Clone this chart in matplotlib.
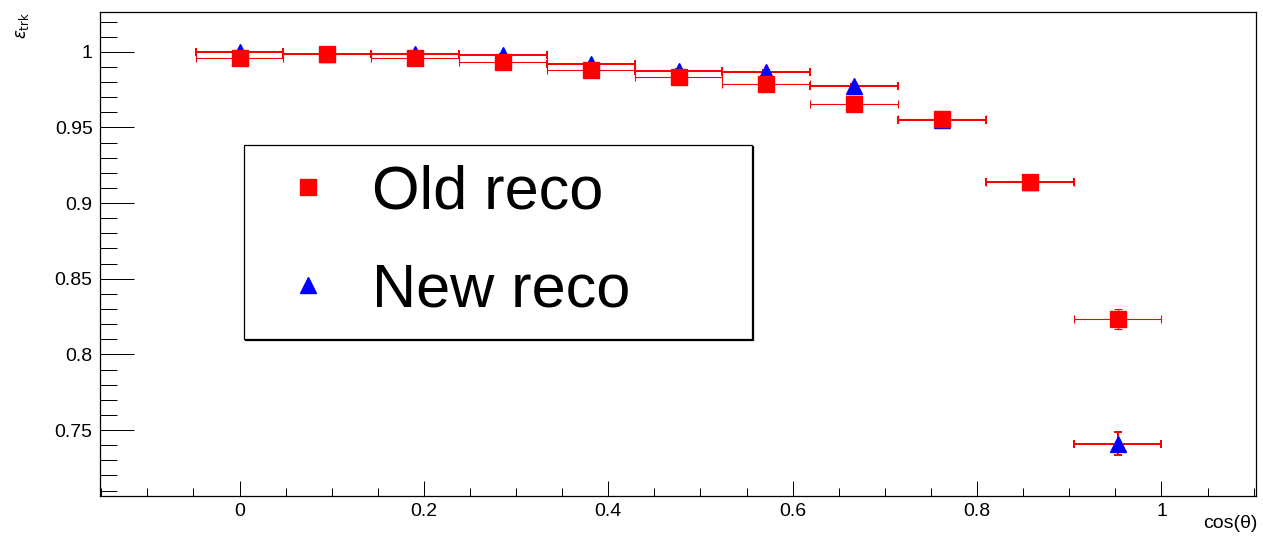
import matplotlib
matplotlib.use('Agg')
import matplotlib.pyplot as plt
from matplotlib.lines import Line2D
from matplotlib.ticker import MultipleLocator, FuncFormatter

# ---- data ----
cos_theta = [0.0, 0.0952, 0.1905, 0.2857, 0.3810, 0.4762, 0.5714, 0.6667, 0.7619, 0.8571, 0.9524]
bin_half_width = [0.0476] * 11
old_eff = [0.9962, 0.9984, 0.9957, 0.9935, 0.9880, 0.9833, 0.9787, 0.9657, 0.9553, 0.9141, 0.8232]
old_err = [0.0008, 0.0008, 0.0009, 0.0010, 0.0012, 0.0014, 0.0016, 0.0020, 0.0025, 0.0035, 0.0066]
new_eff = [1.0000, 0.9988, 0.9983, 0.9979, 0.9917, 0.9873, 0.9868, 0.9772, 0.9550, 0.9138, 0.7410]
new_err = [0.0006, 0.0007, 0.0007, 0.0008, 0.0010, 0.0012, 0.0014, 0.0018, 0.0025, 0.0035, 0.0077]
series_labels = ['Old reco', 'New reco']
y_ticks = [0.75, 0.8, 0.85, 0.9, 0.95, 1.0]
x_ticks = [0.0, 0.2, 0.4, 0.6, 0.8, 1.0]

plt.rcParams['font.family'] = ['Liberation Sans', 'DejaVu Sans']
plt.rcParams['mathtext.fontset'] = 'dejavusans'

fig = plt.figure(figsize=(12.63, 5.39), dpi=100)
ax = fig.add_axes([0.0789, 0.0798, 0.9154, 0.8985])

# New reco first (drawn underneath), then Old reco on top
ax.errorbar(cos_theta, new_eff, xerr=bin_half_width, yerr=new_err, fmt='^',
            color='blue', mec='blue', mfc='blue', ms=11, ecolor='red',
            elinewidth=1.44, capsize=3, capthick=1.44, zorder=2)
ax.errorbar(cos_theta, old_eff, xerr=bin_half_width, yerr=old_err, fmt='s',
            color='red', mec='red', mfc='red', ms=11, ecolor='red',
            elinewidth=0.8, capsize=3, capthick=0.8, zorder=3)

ax.set_xlim(-0.1517, 1.1023)
ax.set_ylim(0.7064, 1.0265)

ax.set_xticks(x_ticks)
ax.set_yticks(y_ticks)
ax.xaxis.set_minor_locator(MultipleLocator(0.05))
ax.yaxis.set_minor_locator(MultipleLocator(0.01))
fmt = FuncFormatter(lambda v, p: '%g' % round(v, 4))
ax.xaxis.set_major_formatter(fmt)
ax.yaxis.set_major_formatter(fmt)

ax.tick_params(axis='both', which='both', direction='in', top=False, right=False,
               width=0.72, color='black', labelsize=14, labelcolor='black')
ax.tick_params(axis='y', which='major', length=24.5, pad=5)
ax.tick_params(axis='y', which='minor', length=12)
ax.tick_params(axis='x', which='major', length=11, pad=5)
ax.tick_params(axis='x', which='minor', length=5.5)
for s in ax.spines.values():
    s.set_linewidth(0.9)
    s.set_color('black')

ax.set_xlabel('cos(θ)', loc='right', fontsize=14)
ax.xaxis.set_label_coords(1.0019, -0.039)
ax.set_ylabel(r'$\epsilon_{\mathrm{trk}}$', loc='top', fontsize=12)
ax.yaxis.set_label_coords(-0.059, 1.0)

handles = [Line2D([], [], marker='s', color='red', ls='none', ms=11),
           Line2D([], [], marker='^', color='blue', ls='none', ms=11)]
leg = ax.legend(handles, series_labels, loc='upper left',
                bbox_to_anchor=(0.1249, 0.3242, 0.4394, 0.4006), mode='expand',
                fontsize=44, frameon=True, fancybox=False, edgecolor='black',
                framealpha=1, borderpad=0.32, labelspacing=0.67, handlelength=1.46,
                handletextpad=0.32, borderaxespad=0,
                shadow={'ox': 1.0, 'oy': -1.0, 'color': 'black', 'alpha': 1})
leg.get_frame().set_linewidth(0.9)

fig.savefig('out.png', dpi=100, facecolor='white')
